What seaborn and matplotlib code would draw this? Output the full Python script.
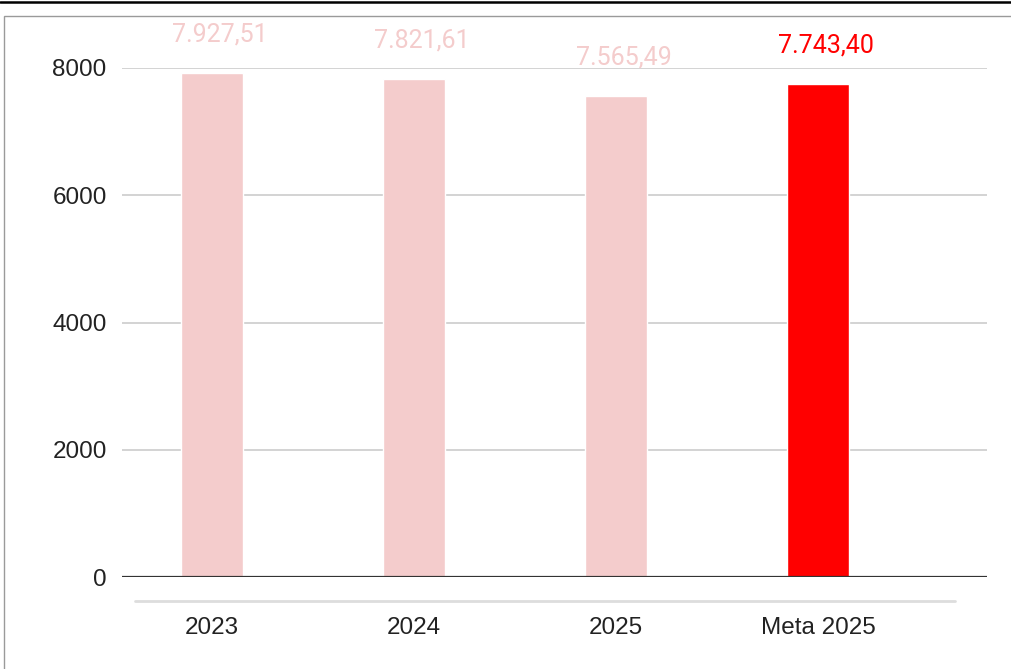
import numpy as np
import pandas as pd
import seaborn as sb
import matplotlib.pyplot as plt
from matplotlib.lines import Line2D
from matplotlib.patches import Rectangle

categorias = ["2023", "2024", "2025", "Meta 2025"]
valores = [7927.51, 7821.61, 7565.49, 7743.40]
rotulos = ["7.927,51", "7.821,61", "7.565,49", "7.743,40"]
cores = ["#f4cccc", "#f4cccc", "#f4cccc", "#ff0000"]
cores_rotulo = ["#f4cccc", "#f4cccc", "#f4cccc", "#ff0000"]
y_ticks = [0, 2000, 4000, 6000, 8000]

df = pd.DataFrame({"Categoria": categorias, "Valor": valores})

sb.set_style("white")
plt.rcParams["font.family"] = ["Liberation Sans", "DejaVu Sans"]

W, H = 1012, 669
fig = plt.figure(figsize=(W / 100, H / 100), dpi=100)
fig.patch.set_facecolor("white")

# moldura e linha de cima
fig.add_artist(Line2D([0, 1], [1 - 2 / H, 1 - 2 / H], color="black", lw=1.8))
fig.add_artist(Rectangle((4 / W, -0.1), 1.2, 1 - 16 / H + 0.1, fill=False,
                         edgecolor="#9a9a9a", lw=1.0))

ax = fig.add_axes([122 / W, 1 - 577 / H, 865 / W, 509 / H])
sb.barplot(data=df, x="Categoria", y="Valor", hue="Categoria", palette=cores,
           legend=False, width=0.307, saturation=1, ax=ax, zorder=3)

ax.set_xlim(-0.446, 3.837)
ax.set_ylim(0, 8000)
ax.set_yticks(y_ticks)
ax.set_yticklabels([str(t) for t in y_ticks], fontsize=17.5, color="#222222")
ax.tick_params(axis="y", length=0, pad=11)
ax.tick_params(axis="x", length=0, pad=29, labelsize=17.5, labelcolor="#222222")
ax.set_xlabel("")
ax.set_ylabel("")
for s in ax.spines.values():
    s.set_visible(False)
ax.grid(axis="y", color="#cccccc", lw=1.2, zorder=0)
ax.axhline(0, color="#333333", lw=1.6, zorder=4)

for i, (v, r) in enumerate(zip(valores, rotulos)):
    ax.annotate(r, (i + 0.04, v), xytext=(0, 19), textcoords="offset points",
                ha="center", va="bottom", fontsize=18, color=cores_rotulo[i],
                family=["Roboto", "DejaVu Sans"], annotation_clip=False)

# linha cinza abaixo do eixo
fig.add_artist(Line2D([135 / W, 955 / W], [1 - 601 / H, 1 - 601 / H],
                      color="#dddddd", lw=2))

plt.savefig("out.png", dpi=100)
